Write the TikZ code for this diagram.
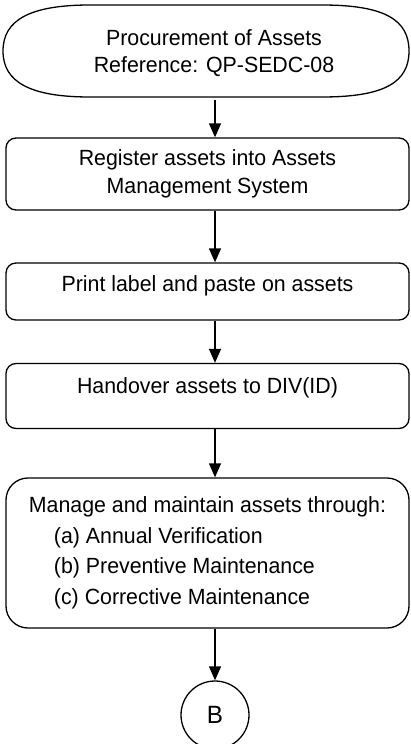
\documentclass[tikz,border=0pt]{standalone}
\usepackage{fontspec}
\setmainfont{Liberation Sans}[FakeStretch=0.97]
\usetikzlibrary{arrows.meta}

\begin{document}
\begin{tikzpicture}[x=1pt,y=-1pt,line width=1.3pt,
  >={Triangle[width=12pt,length=14pt]},
  box/.style={draw,rounded corners=10pt,minimum width=403pt,align=center,
    font=\fontsize{22}{27.5}\selectfont}]
  \useasboundingbox (0,0) rectangle (410,744);
  % start of the procedure
  \draw (3,51) .. controls (3,20) and (30,5) .. (90,5) -- (322,5)
    .. controls (385,5) and (409,20) .. (409,51)
    .. controls (409,82) and (385,97) .. (322,97) -- (90,97)
    .. controls (30,97) and (3,82) .. cycle;
  \node[align=center,minimum height=92pt,font=\fontsize{22}{27.5}\selectfont] (proc) at (214,53)
    {Procurement of Assets\\Reference: QP-SEDC-08};
  \node[box,minimum height=72pt] (reg) at (207.5,174)
    {Register assets into Assets\\Management System};
  \node[box,minimum height=57pt,text depth=16pt] (lab) at (207.5,291.5) {Print label and paste on assets};
  \node[box,minimum height=65pt,text depth=20pt] (hand) at (207.5,396) {Handover assets to DIV(ID)};
  \node[box,rounded corners=22pt,minimum height=150pt,align=left] (manage) at (207.5,553)
    {Manage and maintain assets through:\\[3pt]
     \hspace*{25pt}(a) Annual Verification\\[3pt]
     \hspace*{25pt}(b) Preventive Maintenance\\[3pt]
     \hspace*{25pt}(c) Corrective Maintenance};
  \node[draw,circle,minimum size=68pt,font=\fontsize{25}{30}\selectfont] (B) at (215,715) {B};
\draw[->] (proc.south -| B) -- (reg.north -| B);
\draw[->] (reg.south -| B) -- (lab.north -| B);
\draw[->] (lab.south -| B) -- (hand.north -| B);
\draw[->] (hand.south -| B) -- (manage.north -| B);
\draw[->] (manage.south -| B) -- (B);
\end{tikzpicture}
\end{document}
